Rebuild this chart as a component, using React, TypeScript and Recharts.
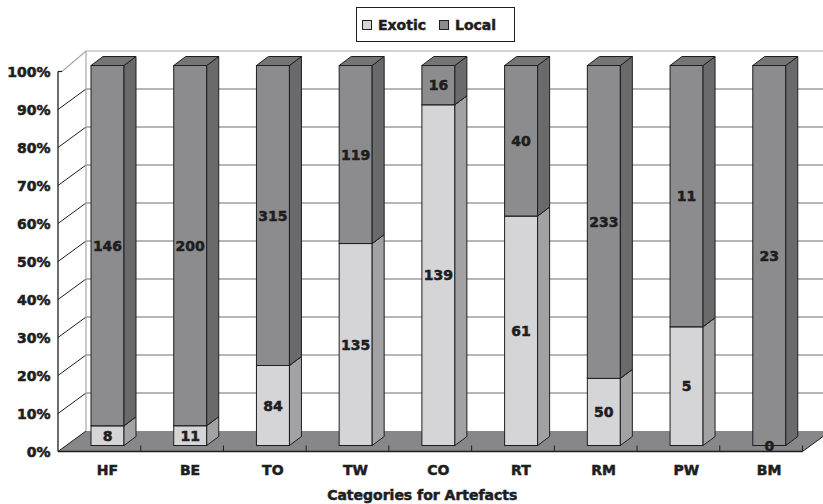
import React from 'react';
import { BarChart, Bar, XAxis, YAxis, CartesianGrid, Legend, LabelList } from 'recharts';

// Artefact categories and counts of exotic vs local material
const CATEGORIES = ['HF', 'BE', 'TO', 'TW', 'CO', 'RT', 'RM', 'PW', 'BM'];
const EXOTIC = [8, 11, 84, 135, 139, 61, 50, 5, 0];
const LOCAL = [146, 200, 315, 119, 16, 40, 233, 11, 23];
const Y_TICKS = [0, 0.1, 0.2, 0.3, 0.4, 0.5, 0.6, 0.7, 0.8, 0.9, 1];
const SERIES_NAMES = ['Exotic', 'Local'];
const X_TITLE = 'Categories for Artefacts';

const data = CATEGORIES.map((cat, i) => ({ cat, exotic: EXOTIC[i], local: LOCAL[i] }));

// layout
const W = 823;
const H = 504;
const MARGIN = { top: 65.5, right: 12.5, bottom: 28.5, left: 0 };
const Y_AXIS_W = 66;
const X_AXIS_H = 30;
const PLOT_TOP = MARGIN.top;
const PLOT_BOTTOM = H - MARGIN.bottom - X_AXIS_H;

// pseudo-3D depth: bars sit in the middle plane, axis in front, walls behind
const BAR_DX = 12;
const BAR_DY = 9;
const FRONT_DX = -8;
const FRONT_DY = 6;
const BACK_DX = 20;
const BACK_DY = -14.5;

const FONT = "'DejaVu Sans', Verdana, sans-serif";
const INK = '#1e1e1e';
const FLOOR = '#878789';
const WALL_EDGE = '#a8a8a8';
const GRID = '#6e6e6e';

const PALETTE = {
  exotic: { front: '#d5d5d7', side: '#a2a2a5', top: '#bdbdbf' },
  local: { front: '#8c8c8f', side: '#6a6a6d', top: '#757578' },
};

// heavy bold lettering
const textStyle = {
  fontFamily: FONT,
  fontWeight: 700,
  fontSize: 14,
  fill: INK,
  stroke: INK,
  strokeWidth: 0.55,
  paintOrder: 'stroke',
} as React.CSSProperties;

function Block(props: any) {
  const { x, y, width: w, height: h, palette } = props;
  if (!(h > 0) || !(w > 0)) return <g />;
  const side = `${x + w},${y + h} ${x + w + BAR_DX},${y + h - BAR_DY} ${x + w + BAR_DX},${y - BAR_DY} ${x + w},${y}`;
  const top = `${x},${y} ${x + BAR_DX},${y - BAR_DY} ${x + w + BAR_DX},${y - BAR_DY} ${x + w},${y}`;
  return (
    <g>
      <rect x={x} y={y} width={w} height={h} fill={palette.front} stroke={INK} strokeWidth={1} />
      <polygon points={side} fill={palette.side} stroke={INK} strokeWidth={1} strokeLinejoin="round" />
      <polygon points={top} fill={palette.top} stroke={INK} strokeWidth={1} strokeLinejoin="round" />
    </g>
  );
}

// each horizontal grid row draws the left-wall diagonal and back-wall line;
// the bottom row also lays the floor, the top row the wall edges and value axis
function GridRow(props: any) {
  const { x1, x2, y1 } = props;
  const k = props.key ?? props.index;
  const fx = x1 + FRONT_DX;
  const fy = y1 + FRONT_DY;
  const bx1 = x1 + BACK_DX;
  const bx2 = x2 + BACK_DX;
  const by = y1 + BACK_DY;

  if (Math.abs(y1 - PLOT_BOTTOM) < 0.5) {
    const band = (x2 - x1) / CATEGORIES.length;
    const fxr = x2 + FRONT_DX;
    return (
      <g key={k}>
        <polygon points={`${fx},${fy} ${fxr},${fy} ${bx2},${by} ${bx1},${by}`} fill={FLOOR} />
        <line x1={fx} y1={fy} x2={bx1} y2={by} stroke={INK} strokeWidth={1} />
        <line x1={fxr} y1={fy} x2={bx2} y2={by} stroke={INK} strokeWidth={1} />
        <line x1={fx} y1={fy} x2={fxr} y2={fy} stroke={INK} strokeWidth={1.6} />
        {CATEGORIES.map((c, i) => (
          <line key={c} x1={fx + band * (i + 1)} y1={fy} x2={fx + band * (i + 1)} y2={fy - 6} stroke={INK} strokeWidth={1} />
        ))}
      </g>
    );
  }

  if (Math.abs(y1 - PLOT_TOP) < 0.5) {
    return (
      <g key={k}>
        <line x1={bx1} y1={by} x2={bx2} y2={by} stroke={WALL_EDGE} strokeWidth={1.2} />
        <line x1={bx1} y1={by} x2={bx1} y2={PLOT_BOTTOM + BACK_DY} stroke={WALL_EDGE} strokeWidth={1.2} />
        <line x1={fx + 4} y1={fy} x2={bx1} y2={by} stroke={WALL_EDGE} strokeWidth={1.2} />
        <line x1={fx} y1={fy} x2={fx + 4} y2={fy} stroke={INK} strokeWidth={1.2} />
        <line x1={fx} y1={fy} x2={fx} y2={PLOT_BOTTOM + FRONT_DY} stroke={INK} strokeWidth={1.3} />
      </g>
    );
  }

  return (
    <g key={k}>
      <line x1={bx1} y1={by} x2={bx2} y2={by} stroke={GRID} strokeWidth={1} />
      <line x1={fx} y1={fy} x2={bx1} y2={by} stroke={INK} strokeWidth={1} />
    </g>
  );
}

function YTick(props: any) {
  const { y, payload } = props;
  return (
    <text x={Y_AXIS_W + FRONT_DX - 7.5} y={y + FRONT_DY + 5.8} textAnchor="end" style={textStyle}>
      {`${Math.round(payload.value * 100)}%`}
    </text>
  );
}

function XTick(props: any) {
  const { x, y, payload } = props;
  return (
    <text x={x} y={y + 29.5} textAnchor="middle" style={textStyle}>
      {payload.value}
    </text>
  );
}

function AxisTitle(props: any) {
  const vb = props.viewBox || {};
  return (
    <text x={vb.x + vb.width / 2 - 16} y={vb.y + vb.height + 24.5} textAnchor="middle" style={textStyle}>
      {X_TITLE}
    </text>
  );
}

function ValueLabel(props: any) {
  const vb = props.viewBox || props;
  const { x, y, width, height } = vb;
  if (props.value === undefined || props.value === null) return null;
  return (
    <text x={x + width / 2} y={y + height / 2 + 5} textAnchor="middle" style={textStyle}>
      {props.value}
    </text>
  );
}

function LegendBox(props: any) {
  const items = props.payload || [];
  return (
    <div
      style={{
        boxSizing: 'border-box',
        width: 159,
        height: 35,
        border: `1px solid ${INK}`,
        background: '#fff',
        display: 'flex',
        alignItems: 'center',
        paddingLeft: 5,
        fontFamily: FONT,
        fontWeight: 700,
        fontSize: 14,
        color: INK,
        lineHeight: '16px',
        WebkitTextStroke: `0.5px ${INK}`,
      }}
    >
      {items.map((it: any, i: number) => (
        <div key={it.value} style={{ display: 'flex', alignItems: 'center', marginLeft: i === 0 ? 0 : 13 }}>
          <span
            style={{
              display: 'inline-block',
              boxSizing: 'border-box',
              width: 10,
              height: 10,
              border: `1px solid ${INK}`,
              background: it.color,
              marginRight: 6,
            }}
          />
          <span>{it.value}</span>
        </div>
      ))}
    </div>
  );
}

export default function App() {
  return (
    <div style={{ position: 'absolute', left: 0, top: 0, width: W, height: H, overflow: 'hidden', background: '#fff' }}>
      <BarChart width={W} height={H} data={data} margin={MARGIN} stackOffset="expand" barSize={33}>
        <CartesianGrid horizontal={GridRow} vertical={false} />
        <XAxis
          dataKey="cat"
          axisLine={false}
          tickLine={false}
          tickSize={0}
          tickMargin={0}
          height={X_AXIS_H}
          interval={0}
          tick={XTick}
          label={AxisTitle}
        />
        <YAxis
          width={Y_AXIS_W}
          domain={[0, 1]}
          ticks={Y_TICKS}
          interval={0}
          axisLine={false}
          tickLine={false}
          tick={YTick}
        />
        <Legend
          layout="horizontal"
          verticalAlign="middle"
          align="center"
          wrapperStyle={{ left: 356, top: 7, width: 159, height: 35 }}
          content={LegendBox}
        />
        <Bar
          dataKey="exotic"
          name={SERIES_NAMES[0]}
          stackId="s"
          fill={PALETTE.exotic.front}
          isAnimationActive={false}
          shape={(p: any) => <Block {...p} palette={PALETTE.exotic} />}
        >
          <LabelList dataKey="exotic" content={ValueLabel} />
        </Bar>
        <Bar
          dataKey="local"
          name={SERIES_NAMES[1]}
          stackId="s"
          fill={PALETTE.local.front}
          isAnimationActive={false}
          shape={(p: any) => <Block {...p} palette={PALETTE.local} />}
        >
          <LabelList dataKey="local" content={ValueLabel} />
        </Bar>
      </BarChart>
    </div>
  );
}
